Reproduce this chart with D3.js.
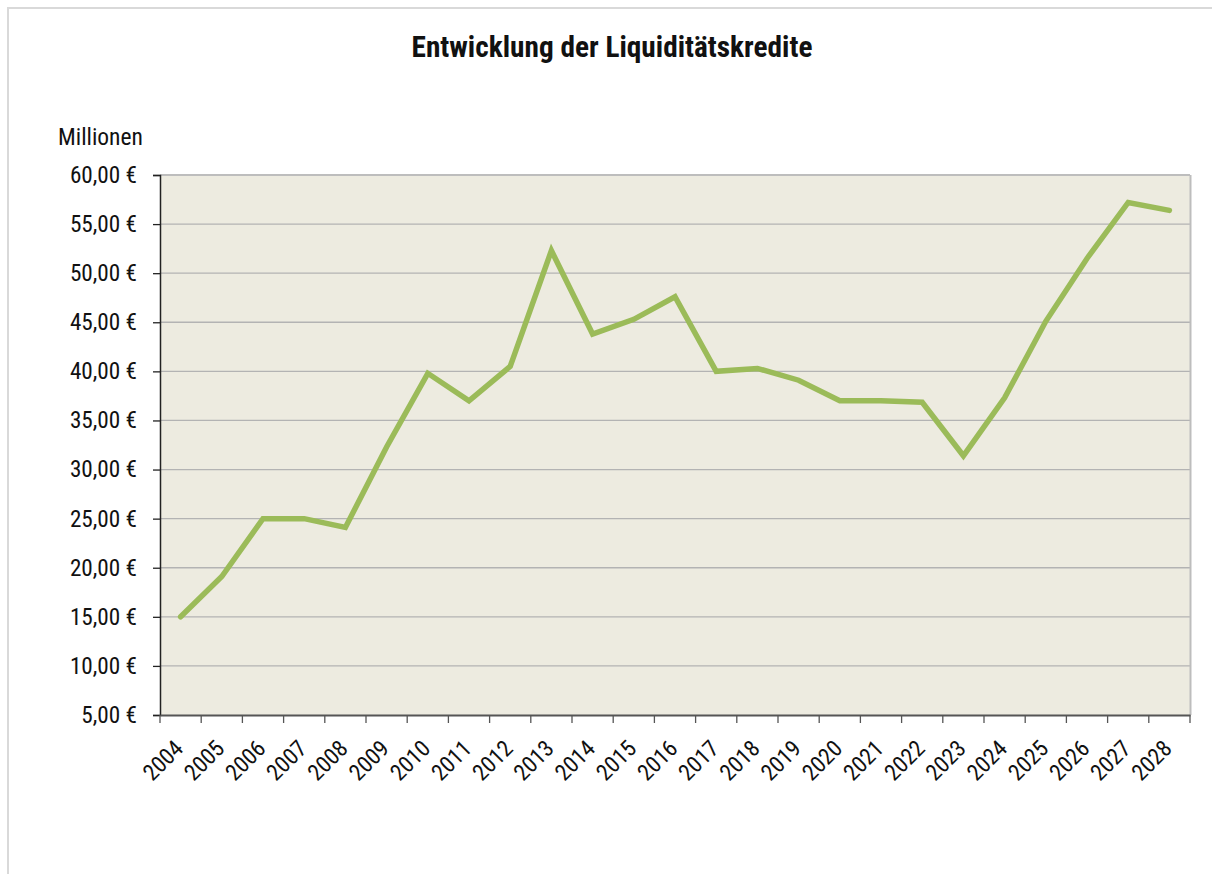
<!DOCTYPE html>
<html><head><meta charset="utf-8">
<script src="https://cdn.jsdelivr.net/npm/d3@7/dist/d3.min.js"></script>
<style>
body{margin:0;background:#fff;}
text{font-family:"Roboto Condensed","Liberation Sans Narrow","Arial Narrow","DejaVu Sans Condensed",Roboto,sans-serif;fill:#111;}
</style></head>
<body><svg id="c" width="1212" height="874"></svg>
<script>
const years = ["2004","2005","2006","2007","2008","2009","2010","2011","2012","2013","2014","2015","2016","2017","2018","2019","2020","2021","2022","2023","2024","2025","2026","2027","2028"];
const credits = [15.0,19.1,25.0,25.0,24.1,32.3,39.8,37.0,40.5,52.3,43.8,45.3,47.6,40.0,40.3,39.1,37.0,37.0,36.85,31.4,37.3,45.1,51.5,57.2,56.4];
const yTicks = [5,10,15,20,25,30,35,40,45,50,55,60];
const title = "Entwicklung der Liquiditätskredite";
const unitLabel = "Millionen";

const svg = d3.select("#c");
const L=160,R=1190,T=175,B=715;

// outer frame
svg.append("path").attr("d","M8,874 V8 H1212").attr("fill","none").attr("stroke","#d9d9d9").attr("stroke-width",2);

const x = d3.scaleBand().domain(years).range([L,R]).padding(0);
const y = d3.scaleLinear().domain([5,60]).range([B,T]);

svg.append("rect").attr("x",L).attr("y",T).attr("width",R-L).attr("height",B-T).attr("fill","#EDEBE0");

// gridlines
svg.append("g").selectAll("line").data(yTicks.filter(v=>v>5)).join("line")
  .attr("x1",L).attr("x2",R).attr("y1",d=>y(d)).attr("y2",d=>y(d))
  .attr("stroke",d=>d===60?"#bdbdbd":"#b3b3b3").attr("stroke-width",d=>d===60?2:1.3);
// right border
svg.append("line").attr("x1",R+0.5).attr("x2",R+0.5).attr("y1",T).attr("y2",B).attr("stroke","#bdbdbd").attr("stroke-width",2);

// y axis
const fmt = v => d3.format(".2f")(v).replace(".",",")+" €";
const ya = svg.append("g").attr("transform",`translate(${L},0)`)
  .call(d3.axisLeft(y).tickValues(yTicks).tickFormat(fmt).tickSize(7).tickPadding(16));
ya.select(".domain").attr("stroke","#222").attr("stroke-width",1.5);
ya.selectAll(".tick line").attr("stroke","#222").attr("stroke-width",1.3);
ya.selectAll("text").attr("font-size",23.2).attr("fill","#111");

// x axis
const xa = svg.append("g").attr("transform",`translate(0,${B})`)
  .call(d3.axisBottom(x).tickSize(0).tickSizeOuter(0));
xa.select(".domain").attr("stroke","#555").attr("stroke-width",2);
xa.selectAll(".tick line").remove();
// category boundary ticks
svg.append("g").selectAll("line").data(years.concat(["end"])).join("line")
  .attr("x1",(d,i)=>L+i*x.bandwidth()).attr("x2",(d,i)=>L+i*x.bandwidth())
  .attr("y1",B).attr("y2",B+8).attr("stroke","#555").attr("stroke-width",1.3);
xa.selectAll(".tick text").attr("font-size",23).attr("fill","#111")
  .attr("text-anchor","end").attr("dy",0).attr("y",0)
  .attr("transform","translate(4,35) rotate(-45)");

// line
const line = d3.line().x((d,i)=>x(years[i])+x.bandwidth()/2).y(d=>y(d));
svg.append("path").datum(credits).attr("d",line).attr("fill","none")
  .attr("stroke","#9BBB59").attr("stroke-width",5.5).attr("stroke-linejoin","miter").attr("stroke-linecap","round");

// title
svg.append("text").attr("x",612).attr("y",57).attr("text-anchor","middle")
  .attr("font-size",29.3).attr("font-weight","bold").text(title);
svg.append("text").attr("x",58).attr("y",145).attr("font-size",23.5).text(unitLabel);
</script></body></html>
